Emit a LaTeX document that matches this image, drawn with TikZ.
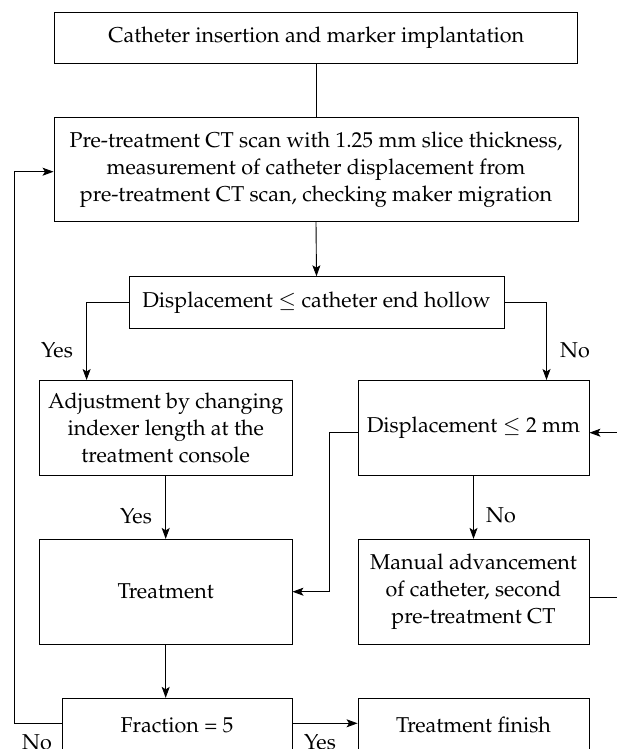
\documentclass[tikz,border=0pt]{standalone}
\usepackage[T1]{fontenc}
\usepackage{mathpazo}
\usetikzlibrary{arrows.meta}
\begin{document}
\begin{tikzpicture}[x=1pt,y=-1pt,
  box/.style={draw=black,line width=0.9pt,align=center,inner sep=0pt,
    font=\fontsize{21.5}{27}\selectfont},
  lbl/.style={font=\fontsize{21.5}{27}\selectfont,inner sep=0pt},
  conn/.style={line width=0.9pt},
  arr/.style={line width=0.9pt,-{Stealth[length=11pt,width=8pt,inset=2.5pt]}}]
\useasboundingbox (0,0) rectangle (617,749);
\clip (0,0) rectangle (617,749);
\node[box,minimum width=523pt,minimum height=51pt] (b1) at (316.3,37.8) {Catheter insertion and marker implantation};
\node[box,minimum width=524pt,minimum height=104pt] (b2) at (316,169.7)
  {Pre-treatment CT scan with 1.25 mm slice thickness,\\measurement of catheter displacement from\\pre-treatment CT scan, checking maker migration};
\node[box,minimum width=375pt,minimum height=51.6pt] (b3) at (316.5,302.5) {Displacement $\leq$ catheter end hollow};
\node[box,minimum width=252.6pt,minimum height=95pt] (b4) at (165.7,427.5) {Adjustment by changing\\indexer length at the\\treatment console};
\node[box,minimum width=231pt,minimum height=95pt] (b5) at (473.5,427.5) {Displacement $\leq$ 2 mm};
\node[box,minimum width=252.6pt,minimum height=104.7pt] (b6) at (165.7,591.7) {Treatment};
\node[box,minimum width=231pt,minimum height=104.7pt] (b7) at (473.5,591.7) {Manual advancement\\of catheter, second\\pre-treatment CT};
\node[box,minimum width=229.8pt,minimum height=53.4pt] (b8) at (177.1,725) {Fraction = 5};
\node[box,minimum width=231pt,minimum height=53.4pt] (b9) at (473.5,725) {Treatment finish};
% connectors
\draw[conn] (b1.south -| b2.north) -- (b2.north);
\draw[arr] (b2.south) -- (b3.north);
\coordinate (yl) at (86.6,380);
\coordinate (nr) at (546.5,380);
\draw[arr] (b3.west) -| (yl);
\draw[arr] (b3.east) -| (nr);
\draw[arr] (b4.south) -- (b6.north);
\draw[arr] (b5.south) -- (b7.north);
\coordinate (j1) at (329,432.7);
\draw[arr] (b5.west |- j1) -- (j1) |- (b6.east);
\coordinate (rr) at (630,597);
\draw[conn] (b7.east |- rr) -- (rr);
\coordinate (rt) at (630,432.7);
\draw[arr] (rr) -- (rt) -- (b5.east |- rt);
\draw[arr] (b6.south) -- (b6.south |- b8.north);
\coordinate (fl) at (14.6,723.3);
\coordinate (ft) at (14.6,171.7);
\draw[arr] (b8.west |- fl) -- (fl) -- (ft) -- (b2.west |- ft);
\draw[arr] (b8.east |- fl) -- (b9.west |- fl);
% labels
\node[lbl] (ly1) at (57,350) {Yes};
\node[lbl] (ln1) at (575,350) {No};
\node[lbl] (ly2) at (136,516) {Yes};
\node[lbl] (ln2) at (501,515) {No};
\node[lbl] (ln3) at (37,742) {No};
\node[lbl] (ly3) at (320,742) {Yes};
\end{tikzpicture}
\end{document}
